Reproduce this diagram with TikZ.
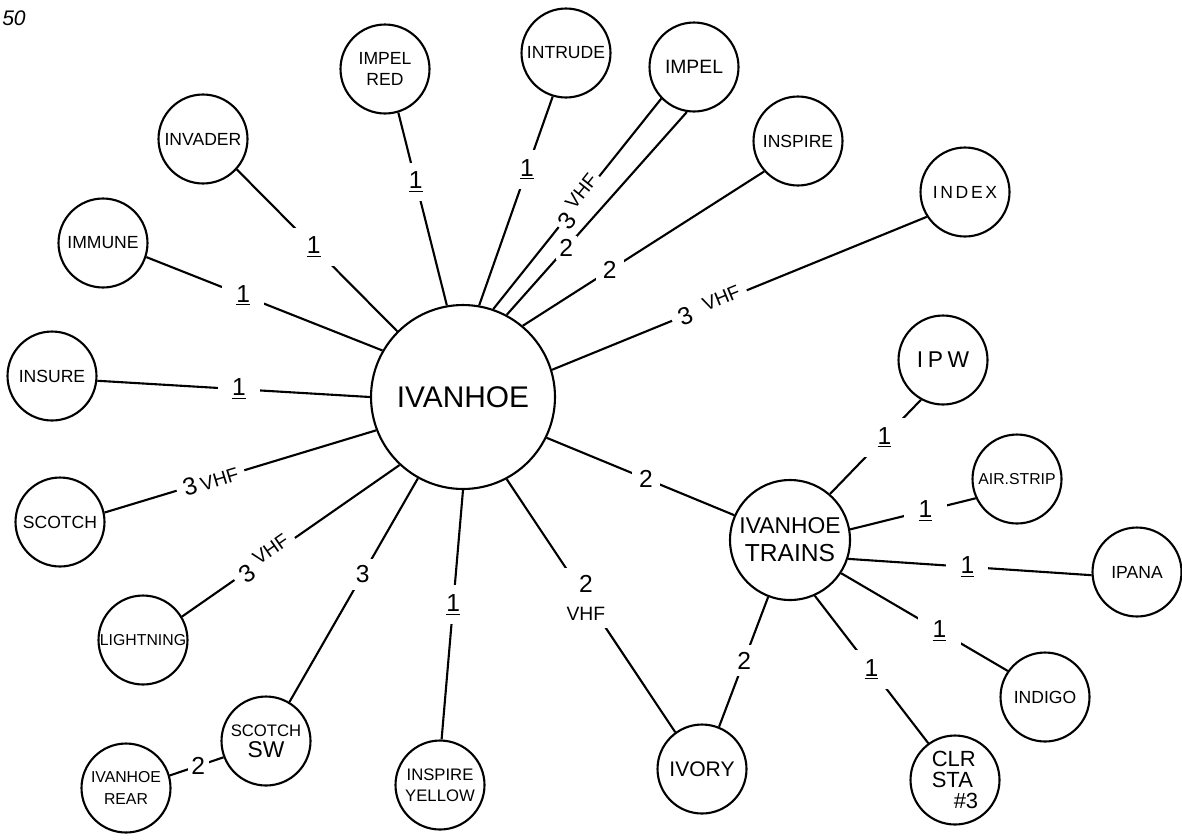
\documentclass[tikz,border=0pt]{standalone}
\usepackage{fontspec}
\setmainfont{Liberation Sans}
\newcommand{\vhfsize}{\fontsize{11}{13}\selectfont}

\begin{document}
\begin{tikzpicture}[
    x=0.02cm, y=-0.02cm, line width=1.2pt,
    station/.style={draw, circle, minimum size=1.78cm, inner sep=0pt, align=center, font=\fontsize{10}{12}\selectfont},
    hub/.style={draw, circle, minimum size=3.68cm, font=\fontsize{17}{20}\selectfont},
    subhub/.style={draw, circle, minimum size=2.4cm, inner sep=0pt, align=center, font=\fontsize{13}{15}\selectfont},
    linklabel/.style={fill=white, inner sep=4pt, font=\fontsize{14}{16}\selectfont},
    onelabel/.style={linklabel, minimum width=24pt, minimum height=22pt},
]
    \useasboundingbox (0,0) rectangle (1182,839);

    \node[font=\fontsize{12}{14}\selectfont\itshape] (sheet) at (14,18) {50};

    % the two hubs
    \node[hub] (ivanhoe) at (463,397) {IVANHOE\hspace{1em}};
    \node[subhub] (trains) at (790,540) {IVANHOE\\[1pt]{\fontsize{14}{16}\selectfont TRAINS}};

    % stations round ivanhoe
    \node[station] (impelred) at (385,69) {IMPEL\\RED};
    \node[station] (intrude) at (566,53) {INTRUDE};
    \node[station, font=\fontsize{11}{13}\selectfont] (impel) at (694,67) {IMPEL};
    \node[station] (inspire) at (798,141) {INSPIRE};
    \node[station] (index) at (965,192) {\addfontfeature{LetterSpace=15}INDEX};
    \node[station] (invader) at (203,139) {INVADER};
    \node[station] (immune) at (103,243) {IMMUNE};
    \node[station] (insure) at (52,376) {INSURE};
    \node[station] (scotch) at (60,522) {SCOTCH};
    \node[station, font=\fontsize{9}{11}\selectfont] (lightning) at (143,640) {LIGHTNING};
    \node[station, font=\fontsize{9.5}{12}\selectfont] (scotchsw) at (266,741) {SCOTCH\\{\fontsize{13}{15}\selectfont SW}};
    \node[station, font=\fontsize{9}{12}\selectfont] (ivanhoerear) at (126,788) {IVANHOE\\REAR};
    \node[station, font=\fontsize{9.5}{12}\selectfont] (inspireyellow) at (440,785) {INSPIRE\\YELLOW};
    \node[station, font=\fontsize{12}{14}\selectfont] (ivory) at (702,769) {IVORY};

    % stations round ivanhoe trains
    \node[station, font=\fontsize{13}{15}\selectfont] (ipw) at (943,360) {\addfontfeature{LetterSpace=20}IPW};
    \node[station, font=\fontsize{9}{11}\selectfont] (airstrip) at (1017,479) {AIR.STRIP};
    \node[station] (ipana) at (1137,572) {IPANA};
    \node[station] (indigo) at (1045,697) {INDIGO};
    \node[station, align=left, font=\fontsize{12.5}{12}\selectfont] (clr) at (955,780) {CLR\\STA\\\hspace*{1em}\#3};

    % links with one channel
    \foreach \a/\b/\c/\d/\p in {
        ivanhoe/135/invader/-42/0.52,
        ivanhoe/150/immune/-18/0.59,
        ivanhoe/180/insure/-6/0.48,
        ivanhoe/270/inspireyellow/88/0.46,
        ivanhoe/80/intrude/253/0.65,
        ivanhoe/100/impelred/-73/0.64,
        trains/49/ipw/241/0.6,
        trains/10/airstrip/205/0.6,
        trains/-18/ipana/184/0.49,
        trains/-33/indigo/145/0.59,
        trains/-66/clr/126/0.5} {
        \draw (\a.\b) -- node[onelabel, pos=\p] {\underline{1}} (\c.\d);
    }

    % the other links
    \draw (ivanhoe.201) -- node[linklabel, sloped, pos=0.61] {3\,{\vhfsize VHF}} (scotch.12);
    \draw (ivanhoe.227) -- node[linklabel, sloped, pos=0.62] {3\hspace{4pt}\raisebox{5pt}{\vhfsize VHF}} (lightning.31);
    \draw (ivanhoe.241) -- node[linklabel, pos=0.43] {3} (scotchsw.59);
    \draw (ivanhoe.298) -- node[linklabel, pos=0.47, align=center] {2\\{\vhfsize VHF}} (ivory.126);
    \draw (ivanhoe.-26) -- node[linklabel, pos=0.53] {2} (trains.156);
    \draw (ivanhoe.17) -- node[linklabel, sloped, pos=0.42] {3\hspace{8pt}\raisebox{3pt}{\vhfsize VHF}} (index.213);
    \draw (ivanhoe.50) -- node[linklabel, pos=0.36] {2} (inspire.222);
    \draw (ivanhoe.62) -- node[linklabel, pos=0.33, inner sep=2pt] {2} (impel.261);
    \draw (ivanhoe.71) -- node[linklabel, sloped, pos=0.51, inner sep=2pt] {3\hspace{3pt}\raisebox{5pt}{\vhfsize VHF}} (impel.224);
    \draw (trains.249) -- node[linklabel, pos=0.49] {2} (ivory.68);
    \draw (ivanhoerear.16) -- node[linklabel, pos=0.53, inner sep=2pt] {2} (scotchsw.201);

\end{tikzpicture}
\end{document}
